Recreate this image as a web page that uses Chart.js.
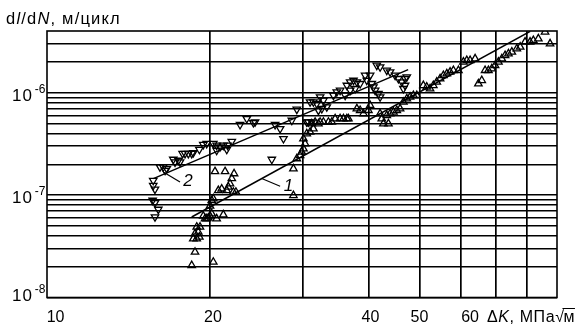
<!DOCTYPE html>
<html><head><meta charset="utf-8">
<script src="https://cdn.jsdelivr.net/npm/chart.js@4.4.1/dist/chart.umd.min.js"></script>
<style>html,body{margin:0;padding:0;background:#fff}canvas{display:block}</style>
</head><body>
<canvas id="c" width="586" height="327"></canvas>
<script>
// ---- axis data ----
const xLabelValues = [10, 20, 40, 50, 60];
const xLabelShift  = [4, 3, 2, 0, 9];
const xGridValues  = [20, 30, 40, 50, 60, 70, 80];
const xRange = [9.8, 91.3];
const yLabelExponents = [-8, -7, -6];
const yMantissas = [1, 2, 3, 4, 5, 6, 7, 8, 9];
const yRange = [1e-8, 4e-6];

// ---- series 1 (up triangles) ----
const s1K = [18.46,18.73,18.59,18.87,19.09,18.73,19.00,18.87,19.14,19.57,19.71,19.85,19.42,20.00,20.15,20.59,21.20,
 20.29,
 20.44,21.36,22.22,22.00,21.83,20.74,21.05,21.67,22.4,20.15,20.00,20.29,21.52,22.15,
 28.81,28.81,29.24,29.66,29.88,30.10,30.32,30.10,30.54,30.99,31.44,31.22,31.68,32.14,32.38,32.85,33.58,34.08,34.58,35.34,35.86,36.40,36.65,
 38.03,38.58,39.14,40.30,40.00,
 42.10,42.41,42.71,43.66,43.35,43.98,44.63,45.29,45.95,46.62,47.32,48.00,48.70,49.43,
 50.87,51.63,52.39,53.14,53.95,54.74,55.53,56.37,57.19,58.02,59.31,60.62,61.52,62.42,63.80,
 64.73,65.69,66.65,67.63,68.63,69.63,70.66,71.72,72.75,73.82,74.93,76.58,77.71,79.39,81.15,82.32,84.14,86.65,88.57];
const s1Rate = [2.06e-8,2.78e-8,3.75e-8,3.75e-8,3.90e-8,4.20e-8,4.36e-8,4.88e-8,4.88e-8,5.88e-8,5.88e-8,5.98e-8,6.25e-8,6.25e-8,6.58e-8,5.88e-8,6.43e-8,
 2.22e-8,
 1.70e-7,1.70e-7,1.62e-7,1.45e-7,1.29e-7,1.11e-7,1.15e-7,1.20e-7,1.07e-7,8.87e-8,7.83e-8,9.22e-8,1.11e-7,1.07e-7,
 1.81e-7,9.93e-8,2.27e-7,2.44e-7,2.64e-7,2.84e-7,3.18e-7,3.55e-7,3.98e-7,4.13e-7,4.45e-7,4.98e-7,5.17e-7,4.98e-7,5.17e-7,5.17e-7,5.17e-7,5.17e-7,5.57e-7,5.57e-7,5.57e-7,5.57e-7,5.57e-7,
 6.98e-7,6.72e-7,6.24e-7,7.52e-7,6.72e-7,
 6.24e-7,5.57e-7,4.98e-7,4.98e-7,6.00e-7,6.24e-7,6.48e-7,6.72e-7,6.98e-7,8.11e-7,8.74e-7,9.08e-7,9.41e-7,9.41e-7,
 1.178e-6,1.137e-6,1.094e-6,1.178e-6,1.272e-6,1.370e-6,1.475e-6,1.533e-6,1.593e-6,1.651e-6,1.651e-6,1.994e-6,2.067e-6,2.067e-6,2.148e-6,
 1.224e-6,1.318e-6,1.651e-6,1.651e-6,1.716e-6,1.847e-6,1.994e-6,2.148e-6,2.313e-6,2.404e-6,2.497e-6,2.690e-6,2.795e-6,3.127e-6,3.127e-6,3.241e-6,3.367e-6,3.92e-6,3.009e-6];

// ---- series 2 (down triangles) ----
const s2K = [15.60,15.60,15.72,15.56,15.72,15.95,15.72,16.07,16.30,16.43,16.55,17.03,17.16,17.41,17.54,17.74,17.93,18.19,18.46,18.59,19.09,19.42,19.71,20.29,20.59,20.89,21.20,21.6,22.00,20.59,21.52,
 22.81,23.49,24.18,24.36,26.21,27.18,27.58,26.59,28.61,29.24,
 30.54,30.76,31.22,30.99,31.44,31.91,32.38,32.85,33.34,32.62,32.14,
 34.32,34.83,35.34,36.40,36.93,37.47,38.03,38.58,37.75,36.93,36.13,
 39.43,40.30,39.72,40.59,40.88,41.19,41.79,42.10,41.49,42.10,43.35,43.98,44.96,45.61,46.29,46.96,47.32,46.62,46.96];
const s2Rate = [1.39e-7,1.24e-7,1.14e-7,8.87e-8,8.43e-8,7.25e-8,6.11e-8,1.88e-7,1.88e-7,1.74e-7,1.81e-7,2.23e-7,2.10e-7,2.18e-7,2.10e-7,2.54e-7,2.54e-7,2.54e-7,2.54e-7,2.59e-7,2.79e-7,3.11e-7,3.18e-7,3.18e-7,3.06e-7,2.95e-7,3.06e-7,3.06e-7,3.34e-7,2.73e-7,2.79e-7,
 4.87e-7,5.57e-7,5.09e-7,5.17e-7,2.23e-7,4.45e-7,3.55e-7,4.87e-7,5.36e-7,6.87e-7,
 5.17e-7,5.17e-7,5.17e-7,8.11e-7,8.11e-7,7.81e-7,9.08e-7,8.41e-7,7.25e-7,6.98e-7,6.72e-7,
 9.41e-7,1.016e-6,1.053e-6,1.178e-6,1.272e-6,1.318e-6,1.272e-6,1.224e-6,1.094e-6,1.053e-6,9.41e-7,
 1.475e-6,1.475e-6,1.318e-6,1.224e-6,1.137e-6,1.053e-6,9.78e-7,9.08e-7,1.847e-6,1.782e-6,1.651e-6,1.593e-6,1.475e-6,1.370e-6,1.272e-6,1.370e-6,1.423e-6,1.094e-6,1.178e-6];

// ---- fit lines and curve labels ----
const fit1K = [18.46, 81.2],  fit1Rate = [6.11e-8, 3.97e-6];
const fit2K = [15.61, 47.6],  fit2Rate = [1.446e-7, 1.677e-6];
const lead1K = [25.08, 27.18], lead1Rate = [1.45e-7, 1.22e-7];
const lead2K = [16.30, 17.54], lead2Rate = [1.68e-7, 1.34e-7];
const curveLabels = ['1', '2'];
const curveLabelK = [28.2, 18.17];
const curveLabelRate = [1.22e-7, 1.35e-7];

const FONT = "'Liberation Sans', Arial, Helvetica, sans-serif";
const pts = (xs, ys) => xs.map((x, i) => ({x, y: ys[i]}));
const yGridValues = [];
yLabelExponents.forEach(e => yMantissas.forEach(m => {
  const v = m * Math.pow(10, e);
  if (v >= yRange[0] * 0.999 && v < yRange[1] * 0.99) yGridValues.push(v);
}));

function drawSegments(ctx, segs, x, y, size, spacing) {
  ctx.letterSpacing = spacing + 'px';
  ctx.textAlign = 'left';
  for (const [t, st] of segs) {
    ctx.font = (st || '') + ' ' + size + 'px ' + FONT;
    ctx.fillText(t, x, y);
    x += ctx.measureText(t).width;
  }
  ctx.letterSpacing = '0px';
  return x;
}

const deco = {
  id: 'deco',
  beforeDatasetsDraw(chart) {
    const {ctx, chartArea: a} = chart;
    ctx.save();
    ctx.strokeStyle = '#000'; ctx.lineWidth = 1.6;
    ctx.strokeRect(a.left, a.top, a.right - a.left, a.bottom - a.top);
    ctx.restore();
  },
  afterDraw(chart) {
    const {ctx, chartArea: a} = chart;
    const xs = chart.scales.x, ys = chart.scales.y;
    ctx.save();
    ctx.fillStyle = '#000'; ctx.strokeStyle = '#000';
    ctx.textBaseline = 'alphabetic';
    // x tick labels
    ctx.font = '16px ' + FONT; ctx.textAlign = 'center';
    xLabelValues.forEach((v, i) => {
      ctx.fillText(String(v), xs.getPixelForValue(v) + xLabelShift[i], 321.5);
    });
    // y tick labels 10^e
    yLabelExponents.forEach(e => {
      const gy = ys.getPixelForValue(Math.pow(10, e));
      const sup = Math.min(gy, a.bottom - 5);
      ctx.font = '17px ' + FONT; ctx.textAlign = 'right';
      ctx.letterSpacing = '1px';
      ctx.fillText('10', 33, sup + 8);
      ctx.letterSpacing = '0px';
      ctx.font = '12px ' + FONT; ctx.textAlign = 'right';
      ctx.fillText('-' + Math.abs(e), 45.5, sup);
    });
    // y title
    drawSegments(ctx, [['d',''],['l','italic'],['/d',''],['N','italic'],[', м/цикл','']], 6, 23.5, 16.5, 1.2);
    // x title
    let x = drawSegments(ctx, [['\u0394',''],['K','italic'],[', МПа','']], 487, 321.5, 16, 0.6);
    ctx.font = '16px ' + FONT; ctx.textAlign = 'left';
    ctx.fillText('\u221A', x, 321.5);
    const sw = ctx.measureText('\u221A').width;
    ctx.fillText('м', x + sw - 0.5, 321.5);
    const mw = ctx.measureText('м').width;
    ctx.lineWidth = 1;
    ctx.beginPath(); ctx.moveTo(x + sw - 1.5, 308.5); ctx.lineTo(x + sw + mw, 308.5); ctx.stroke();
    // curve labels
    ctx.font = 'italic 17px ' + FONT; ctx.textAlign = 'center'; ctx.textBaseline = 'middle';
    curveLabels.forEach((t, i) => {
      ctx.fillText(t, xs.getPixelForValue(curveLabelK[i]), ys.getPixelForValue(curveLabelRate[i]));
    });
    ctx.restore();
  }
};

const lineDs = (d, w) => ({data: d, showLine: true, pointRadius: 0, borderColor: '#000', borderWidth: w, fill: false});
const markerDs = (d, rot) => ({data: d, showLine: false, pointStyle: 'triangle', pointRotation: rot,
  pointRadius: 4.3, borderColor: '#000', backgroundColor: 'rgba(0,0,0,0)', pointBorderWidth: 1.3, borderWidth: 1.3});

new Chart(document.getElementById('c'), {
  type: 'scatter',
  data: {datasets: [
    markerDs(pts(s1K, s1Rate), 0),
    markerDs(pts(s2K, s2Rate), 180),
    lineDs(pts(fit1K, fit1Rate), 1.5),
    lineDs(pts(fit2K, fit2Rate), 1.5),
    lineDs(pts(lead1K, lead1Rate), 1.2),
    lineDs(pts(lead2K, lead2Rate), 1.2)
  ]},
  options: {
    responsive: false, animation: false, devicePixelRatio: 1,
    layout: {padding: {left: 47, top: 31, right: 29, bottom: 29.5}},
    plugins: {legend: {display: false}, tooltip: {enabled: false}},
    scales: {
      x: {type: 'logarithmic', min: xRange[0], max: xRange[1], bounds: 'data',
        ticks: {display: false}, border: {display: false},
        grid: {color: '#000', lineWidth: 1.7, drawTicks: false},
        afterBuildTicks: s => { s.ticks = xGridValues.map(v => ({value: v})); }},
      y: {type: 'logarithmic', min: yRange[0], max: yRange[1], bounds: 'data',
        ticks: {display: false}, border: {display: false},
        grid: {color: '#000', lineWidth: 1.5, drawTicks: false},
        afterBuildTicks: s => { s.ticks = yGridValues.map(v => ({value: v})); }}
    }
  },
  plugins: [deco]
});
</script>
</body></html>
